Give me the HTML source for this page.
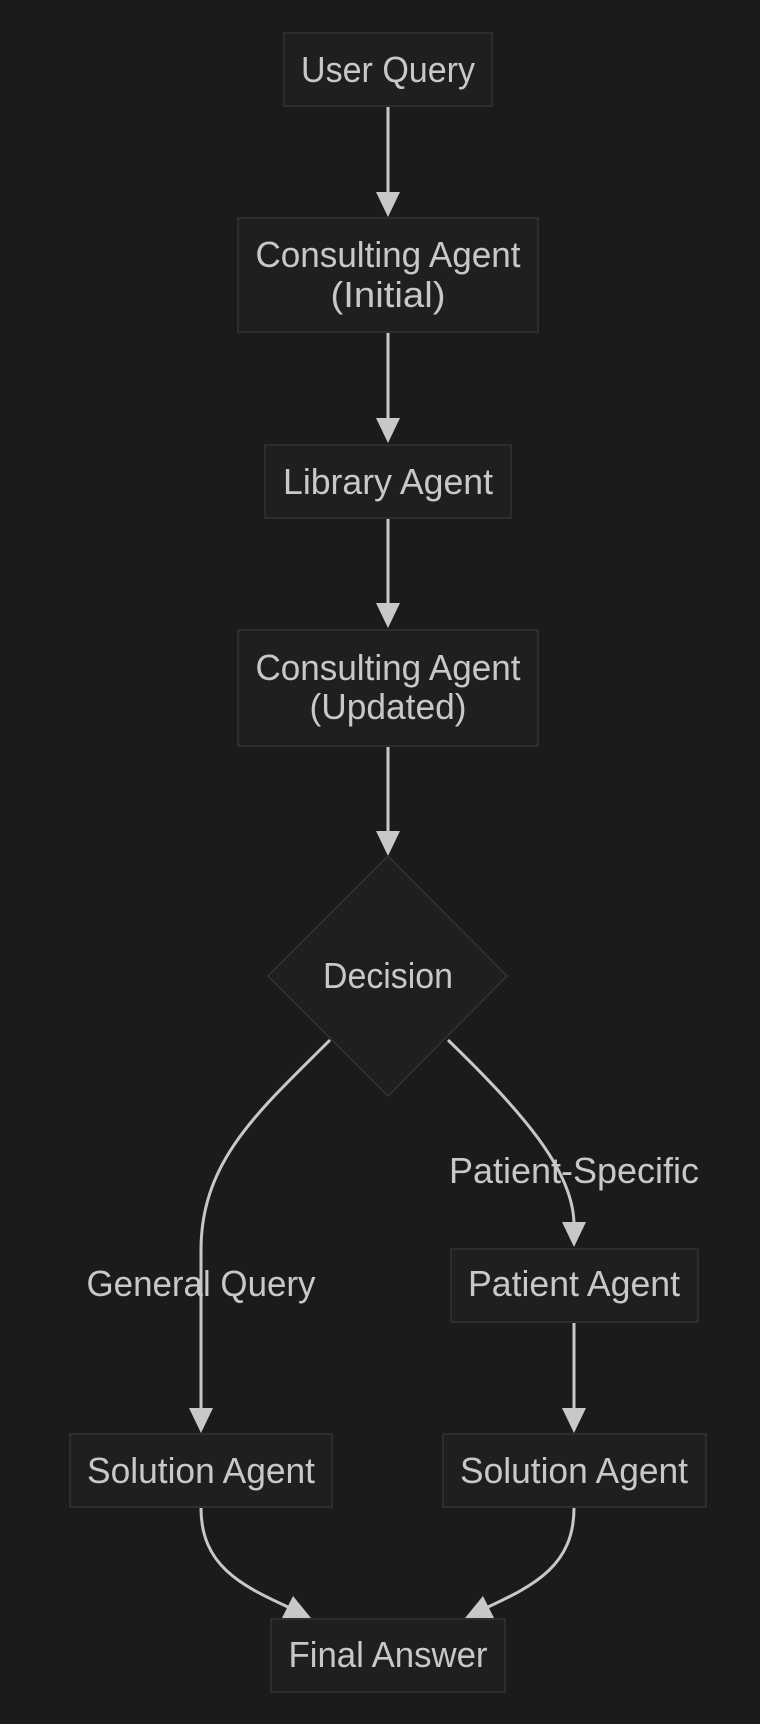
<!DOCTYPE html>
<html><head><meta charset="utf-8"><style>
html,body{margin:0;padding:0;background:#1b1b1b;}
svg{display:block;}
text{font-family:"Liberation Sans",sans-serif;font-size:36px;fill:#c8c8c8;text-anchor:middle;}
.b{fill:#1f1f1f;stroke:#333;stroke-width:1.5;}
.e{fill:none;stroke:#c8c8c8;stroke-width:3;}
.a{fill:#c8c8c8;}
</style></head><body>
<svg width="760" height="1724" viewBox="0 0 760 1724" xmlns="http://www.w3.org/2000/svg">
<rect width="760" height="1724" fill="#1b1b1b"/>
<!-- edges -->
<path class="e" d="M388 107 V195"/><polygon class="a" points="376,192 400,192 388,217"/>
<path class="e" d="M388 333 V420"/><polygon class="a" points="376,418 400,418 388,443"/>
<path class="e" d="M388 519 V605"/><polygon class="a" points="376,603 400,603 388,628"/>
<path class="e" d="M388 747 V833"/><polygon class="a" points="376,831 400,831 388,856"/>
<path class="e" d="M330 1040 C260 1110 201 1160 201 1250 V1410"/><polygon class="a" points="189,1408 213,1408 201,1433"/>
<path class="e" d="M448 1040 C520 1110 574 1170 574 1225"/><polygon class="a" points="562,1222 586,1222 574,1247"/>
<path class="e" d="M574 1323 V1410"/><polygon class="a" points="562,1408 586,1408 574,1433"/>
<path class="e" d="M201 1508 C201 1565 240 1585 288 1607"/><polygon class="a" points="311,1618 282,1618 293,1596"/>
<path class="e" d="M574 1508 C574 1565 535 1585 488 1607"/><polygon class="a" points="465,1618 494,1618 483,1596"/>
<!-- nodes -->
<rect class="b" x="284" y="33" width="208" height="73"/>
<text x="388" y="82" textLength="174" lengthAdjust="spacingAndGlyphs">User Query</text>
<rect class="b" x="238" y="218" width="300" height="114"/>
<text x="388" y="267" textLength="265" lengthAdjust="spacingAndGlyphs">Consulting Agent</text>
<text x="388" y="307" textLength="115" lengthAdjust="spacingAndGlyphs">(Initial)</text>
<rect class="b" x="265" y="445" width="246" height="73"/>
<text x="388" y="494" textLength="210" lengthAdjust="spacingAndGlyphs">Library Agent</text>
<rect class="b" x="238" y="630" width="300" height="116"/>
<text x="388" y="680" textLength="265" lengthAdjust="spacingAndGlyphs">Consulting Agent</text>
<text x="388" y="719" textLength="157" lengthAdjust="spacingAndGlyphs">(Updated)</text>
<polygon class="b" points="388,856 507,976 388,1096 268,976"/>
<text x="388" y="988" textLength="130" lengthAdjust="spacingAndGlyphs">Decision</text>
<text x="574" y="1183" textLength="250" lengthAdjust="spacingAndGlyphs">Patient-Specific</text>
<text x="201" y="1296" textLength="229" lengthAdjust="spacingAndGlyphs">General Query</text>
<rect class="b" x="451" y="1249" width="247" height="73"/>
<text x="574" y="1296" textLength="212" lengthAdjust="spacingAndGlyphs">Patient Agent</text>
<rect class="b" x="70" y="1434" width="262" height="73"/>
<text x="201" y="1483" textLength="228" lengthAdjust="spacingAndGlyphs">Solution Agent</text>
<rect class="b" x="443" y="1434" width="263" height="73"/>
<text x="574" y="1483" textLength="228" lengthAdjust="spacingAndGlyphs">Solution Agent</text>
<rect class="b" x="271" y="1619" width="234" height="73"/>
<text x="388" y="1667" textLength="199" lengthAdjust="spacingAndGlyphs">Final Answer</text>
</svg>
</body></html>
